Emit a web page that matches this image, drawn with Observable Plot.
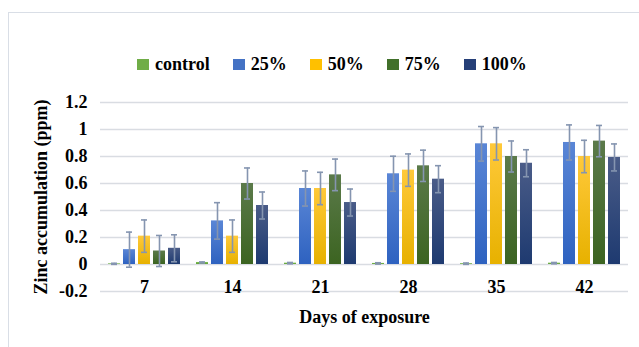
<!DOCTYPE html>
<html>
<head>
<meta charset="utf-8">
<script src="https://cdn.jsdelivr.net/npm/d3@7"></script>
<script src="https://cdn.jsdelivr.net/npm/@observablehq/plot@0.6"></script>
<style>
  html, body { margin: 0; padding: 0; background: #fff; }
  body { width: 639px; height: 347px; position: relative; overflow: hidden;
         font-family: "Liberation Serif", "Times New Roman", serif; font-weight: bold; }
  #frame { position: absolute; left: 8px; top: 12px; width: 700px; height: 400px;
           border-left: 1.5px solid #d9dee6; border-top: 1.5px solid #d9dee6; }
  #legend { position: absolute; left: 137px; top: 54px; display: flex; align-items: center;
            font-size: 18px; color: #000; white-space: nowrap; }
  #legend .item { display: flex; align-items: center; margin-right: 23px; }
  #legend .sw { width: 12px; height: 11px; margin-right: 6px; }
  #chart { position: absolute; left: 0; top: 80px; }
</style>
</head>
<body>
<svg width="0" height="0" style="position:absolute">
  <defs>
    <linearGradient id="g0" x1="0" y1="0" x2="0" y2="1"><stop offset="0" stop-color="#7fc057"/><stop offset="1" stop-color="#5f9e37"/></linearGradient>
    <linearGradient id="g1" x1="0" y1="0" x2="0" y2="1"><stop offset="0" stop-color="#5a86d6"/><stop offset="1" stop-color="#2e62c0"/></linearGradient>
    <linearGradient id="g2" x1="0" y1="0" x2="0" y2="1"><stop offset="0" stop-color="#ffc93a"/><stop offset="1" stop-color="#e7b100"/></linearGradient>
    <linearGradient id="g3" x1="0" y1="0" x2="0" y2="1"><stop offset="0" stop-color="#5b7a4a"/><stop offset="1" stop-color="#3c6421"/></linearGradient>
    <linearGradient id="g4" x1="0" y1="0" x2="0" y2="1"><stop offset="0" stop-color="#4a5c88"/><stop offset="1" stop-color="#1e3a70"/></linearGradient>
  </defs>
</svg>
<div id="frame"></div>
<div id="legend"></div>
<div id="chart"></div>
<script>
const days = [7, 14, 21, 28, 35, 42];
const series = ["control", "25%", "50%", "75%", "100%"];
const control    = [0.005, 0.015, 0.010, 0.008, 0.006, 0.010];
const controlErr = [0.004, 0.004, 0.005, 0.005, 0.005, 0.005];
const p25    = [0.110, 0.323, 0.563, 0.672, 0.894, 0.904];
const p25Err = [0.130, 0.135, 0.130, 0.130, 0.128, 0.130];
const p50    = [0.210, 0.210, 0.563, 0.699, 0.894, 0.800];
const p50Err = [0.120, 0.120, 0.120, 0.120, 0.120, 0.120];
const p75    = [0.100, 0.600, 0.664, 0.731, 0.800, 0.914];
const p75Err = [0.115, 0.115, 0.117, 0.116, 0.115, 0.116];
const p100    = [0.120, 0.437, 0.459, 0.632, 0.750, 0.793];
const p100Err = [0.100, 0.100, 0.100, 0.100, 0.100, 0.100];
const yTicks = [-0.2, 0, 0.2, 0.4, 0.6, 0.8, 1, 1.2];
const yTickLabels = ["-0.2", "0", "0.2", "0.4", "0.6", "0.8", "1", "1.2"];
const legendColors = ["#70ad47", "#4472c4", "#ffc000", "#41702a", "#263f78"];
const barFills = ["url(#g0)", "url(#g1)", "url(#g2)", "url(#g3)", "url(#g4)"];

const values = [control, p25, p50, p75, p100];
const errors = [controlErr, p25Err, p50Err, p75Err, p100Err];
const data = [];
days.forEach((day, i) => series.forEach((s, j) => {
  data.push({day, series: s, value: values[j][i], err: errors[j][i]});
}));

// legend
const legend = document.getElementById("legend");
series.forEach((s, j) => {
  const it = document.createElement("div"); it.className = "item";
  const sw = document.createElement("div"); sw.className = "sw"; sw.style.background = legendColors[j];
  const tx = document.createElement("span"); tx.textContent = s;
  it.appendChild(sw); it.appendChild(tx); legend.appendChild(it);
});

const errColor = "#8595b0";
const chart = Plot.plot({
  width: 639,
  height: 267,
  marginTop: 22,
  marginBottom: 56,
  marginLeft: 100,
  marginRight: 11,
  style: {fontFamily: "'Liberation Serif', 'Times New Roman', serif", fontSize: "18px", fontWeight: "bold", color: "#000", background: "transparent", overflow: "visible"},
  fx: {domain: days, padding: 0},
  x: {domain: series, paddingInner: 0.17, paddingOuter: 0.385, axis: null},
  y: {domain: [-0.2, 1.2]},
  color: {domain: series, range: barFills},
  marks: [
    Plot.ruleY(yTicks, {stroke: "#d9dce2", strokeWidth: 1.5}),
    Plot.barY(data, {fx: "day", x: "series", y: "value", fill: "series"}),
    Plot.ruleX(data, {fx: "day", x: "series", y1: d => d.value - d.err, y2: d => d.value + d.err, stroke: errColor, strokeWidth: 1.6}),
    Plot.tickY(data, {fx: "day", x: "series", y: d => d.value - d.err, inset: 3, stroke: errColor, strokeWidth: 1.6}),
    Plot.tickY(data, {fx: "day", x: "series", y: d => d.value + d.err, inset: 3, stroke: errColor, strokeWidth: 1.6}),
    Plot.axisY({ticks: yTicks, tickSize: 0, tickPadding: 13, tickFormat: d => yTickLabels[yTicks.indexOf(d)],
                label: "Zinc accumulation (ppm)", labelAnchor: "center", labelArrow: "none", labelOffset: 66}),
    Plot.axisFx({anchor: "bottom", tickSize: 0, tickPadding: 0, dy: -11, label: "Days of exposure", labelAnchor: "center", labelArrow: "none", labelOffset: 31})
  ]
});
document.getElementById("chart").appendChild(chart);
</script>
</body>
</html>
